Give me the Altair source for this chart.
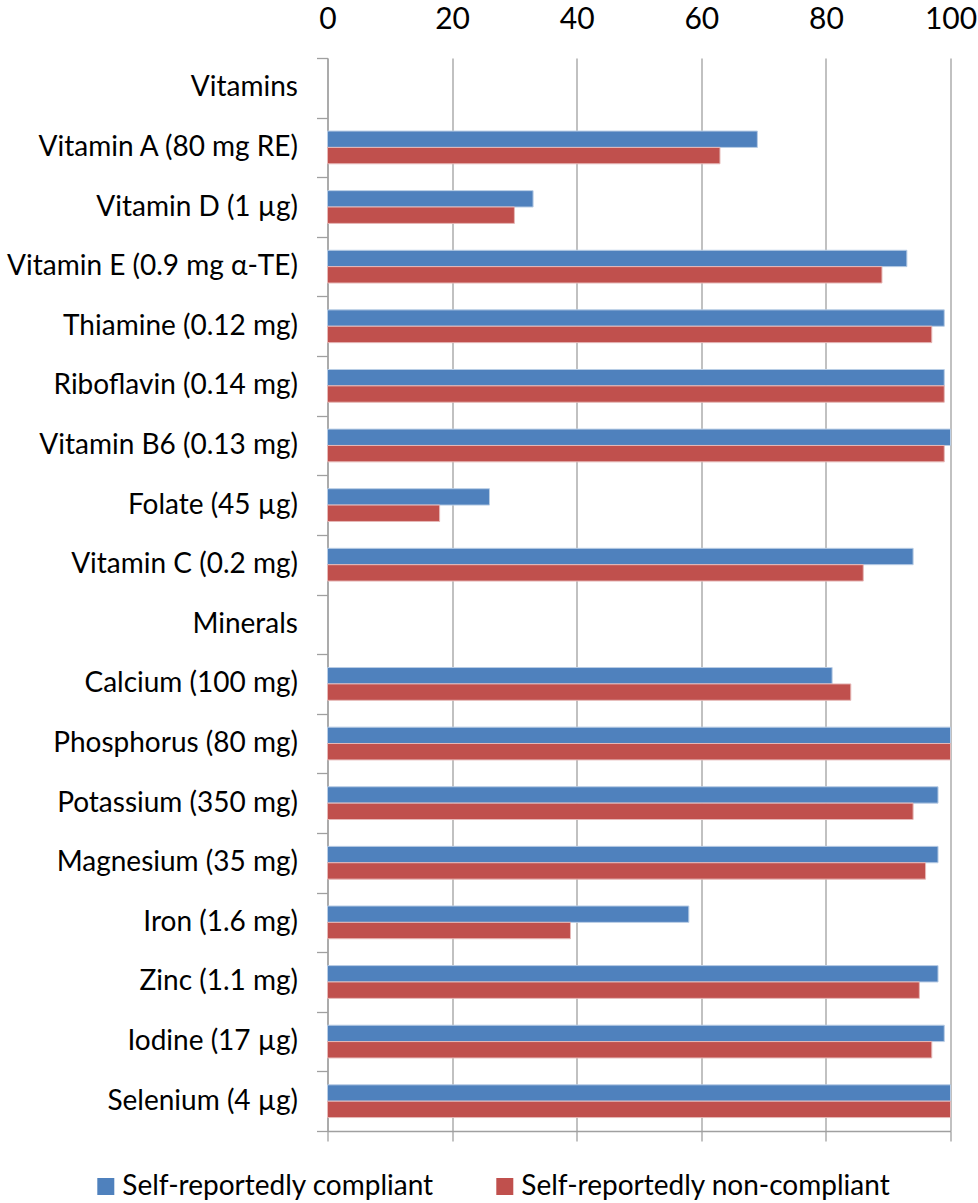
import altair as alt
import pandas as pd

# Nutrient rows, top to bottom; the two group headers carry no bars
categories = [
    "Vitamins",
    "Vitamin A (80 mg RE)",
    "Vitamin D (1 µg)",
    "Vitamin E (0.9 mg α-TE)",
    "Thiamine (0.12 mg)",
    "Riboflavin (0.14 mg)",
    "Vitamin B6 (0.13 mg)",
    "Folate (45 µg)",
    "Vitamin C (0.2 mg)",
    "Minerals",
    "Calcium (100 mg)",
    "Phosphorus (80 mg)",
    "Potassium (350 mg)",
    "Magnesium (35 mg)",
    "Iron (1.6 mg)",
    "Zinc (1.1 mg)",
    "Iodine (17 µg)",
    "Selenium (4 µg)",
]

compliant = [None, 69, 33, 93, 99, 99, 100, 26, 94,
             None, 81, 100, 98, 98, 58, 98, 99, 100]
non_compliant = [None, 63, 30, 89, 97, 99, 99, 18, 86,
                 None, 84, 100, 94, 96, 39, 95, 97, 100]

series = ["Self-reportedly compliant", "Self-reportedly non-compliant"]
fill_colors = ["#4F81BD", "#C0504D"]
edge_colors = ["#B9CDE5", "#E6B9B8"]
x_ticks = [0, 20, 40, 60, 80, 100]

rows = []
for cat, a, b in zip(categories, compliant, non_compliant):
    rows.append({"nutrient": cat, "group": series[0], "value": a})
    rows.append({"nutrient": cat, "group": series[1], "value": b})
df = pd.DataFrame(rows)

FONT = "Lato"
FS_CAT = 28
FS_TICK = 30
FS_LEG = 28
GRID = "#a0a0a0"

PLOT_W = 623
PLOT_H = 1073
LEFT = 327.5
TOP = 58

y_enc = alt.Y(
    "nutrient:N",
    scale=alt.Scale(domain=categories, paddingInner=0, paddingOuter=0),
    axis=alt.Axis(
        title=None,
        tickBand="extent",
        tickSize=11,
        tickColor=GRID,
        tickWidth=1.3,
        domainColor=GRID,
        domainWidth=1.3,
        labelPadding=19,
        labelFont=FONT,
        labelFontSize=FS_CAT,
        labelColor="#000000",
        labelLimit=400,
        grid=False,
    ),
)
y_off = alt.YOffset(
    "group:N",
    sort=series,
    scale=alt.Scale(domain=series, paddingInner=0, paddingOuter=0.82),
)
x_scale = alt.Scale(domain=[0, 100], nice=False)

bars = alt.Chart(df).mark_bar(strokeWidth=1).encode(
    x=alt.X(
        "value:Q",
        scale=x_scale,
        axis=alt.Axis(
            orient="top",
            title=None,
            values=x_ticks,
            ticks=False,
            domain=False,
            grid=True,
            gridColor=GRID,
            gridWidth=1.3,
            labelFont=FONT,
            labelFontSize=FS_TICK,
            labelColor="#000000",
            labelPadding=24,
            labelFlush=False,
            labelOverlap=False,
        ),
    ),
    y=y_enc,
    yOffset=y_off,
    color=alt.Color(
        "group:N",
        sort=series,
        scale=alt.Scale(domain=series, range=fill_colors),
        legend=alt.Legend(
            title=None,
            orient="none",
            legendX=-235.7,
            legendY=1114.5,
            direction="horizontal",
            columns=2,
            columnPadding=56,
            symbolType="square",
            symbolSize=289,
            symbolStrokeWidth=0,
            symbolOpacity=1,
            labelFont=FONT,
            labelFontSize=FS_LEG,
            labelColor="#000000",
            labelOffset=2.5,
            labelLimit=500,
            padding=0,
        ),
    ),
    stroke=alt.Stroke(
        "group:N",
        sort=series,
        scale=alt.Scale(domain=series, range=edge_colors),
        legend=None,
    ),
)

# Bottom value-axis line with downward ticks, no labels
base_axis = alt.Chart(df).mark_bar(opacity=0).encode(
    x=alt.X(
        "value:Q",
        scale=x_scale,
        axis=alt.Axis(
            orient="bottom",
            title=None,
            values=x_ticks,
            labels=False,
            ticks=True,
            tickSize=10,
            tickColor=GRID,
            tickWidth=1.3,
            domain=True,
            domainColor=GRID,
            domainWidth=1.3,
            grid=False,
        ),
    ),
    y=y_enc,
)

chart = (
    alt.layer(bars, base_axis)
    .resolve_axis(x="independent")
    .properties(
        width=PLOT_W,
        height=PLOT_H,
        autosize=alt.AutoSizeParams(type="none"),
        padding={"left": LEFT, "top": TOP, "right": 978 - LEFT - PLOT_W,
                 "bottom": 1203 - TOP - PLOT_H},
        background="#ffffff",
    )
    .configure_view(stroke=None)
)

chart.save("out.html", embed_options={"renderer": "svg", "actions": False})
